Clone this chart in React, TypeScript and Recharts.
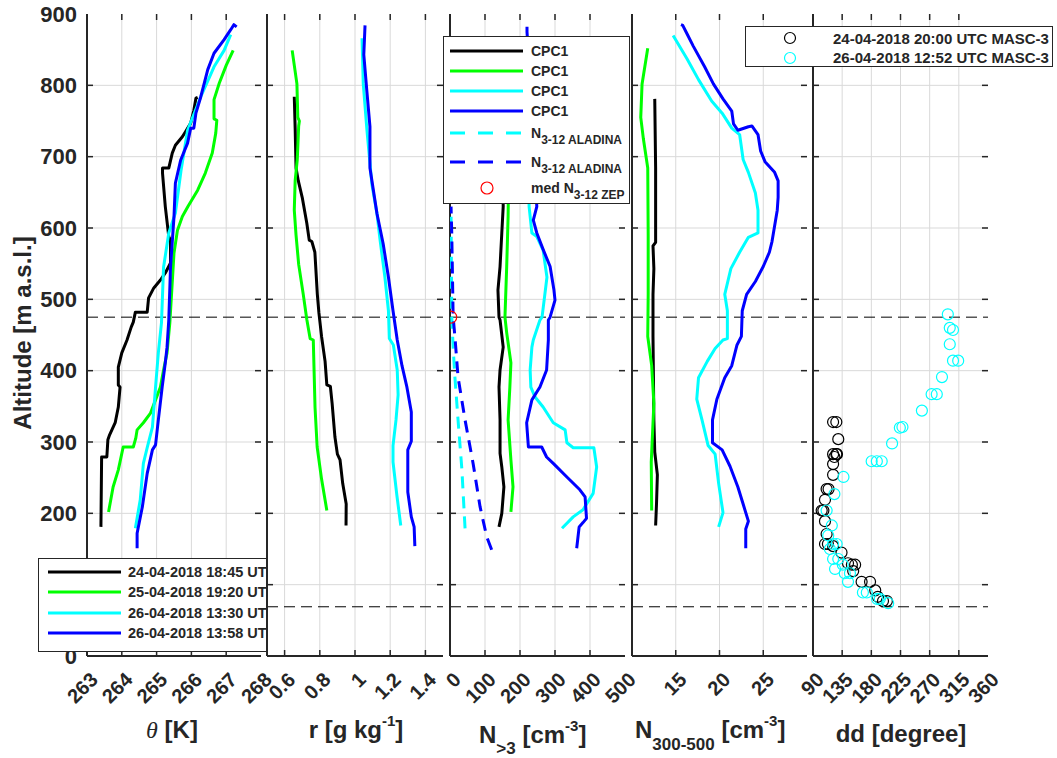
import React from 'react';
import { ScatterChart, Scatter, XAxis, YAxis, ReferenceLine } from 'recharts';

const FONT = '"Liberation Sans", Arial, Helvetica, sans-serif';
const INK = '#262626';
const W = 1057;
const H = 758;
const PLOT_TOP = 14;
const PLOT_BOTTOM = 656;
const TICK_PX = 6;

// ticks
const altTicks = [0, 100, 200, 300, 400, 500, 600, 700, 800, 900];
const thetaTicks = [263, 264, 265, 266, 267, 268];
const rTicks = [0.6, 0.8, 1, 1.2, 1.4];
const n3Ticks = [0, 100, 200, 300, 400, 500];
const n300Ticks = [15, 20, 25];
const ddTicks = [90, 135, 180, 225, 270, 315, 360];
const layerAlts = [475, 69];

// legend labels
const profileLabels = ['24-04-2018 18:45 UTC', '25-04-2018 19:20 UTC', '26-04-2018 13:30 UTC', '26-04-2018 13:58 UTC'];
const profileColors = ['#000000', '#00ff00', '#00ffff', '#0000ff'];
const masc3Labels = ['24-04-2018 20:00 UTC MASC-3', '26-04-2018 12:52 UTC MASC-3'];

// potential temperature [K] vs altitude
const theta1 = [[263.40,181],[263.42,279],[263.57,279],[263.60,303],[263.65,310],[263.81,327],[263.90,349],[263.95,377],[263.90,380],[263.90,405],[264.00,425],[264.15,443],[264.27,461],[264.33,468],[264.39,482],[264.73,482],[264.77,502],[264.92,516],[265.11,527],[265.25,537],[265.40,551],[265.40,583],[265.35,588],[265.25,630],[265.17,677],[265.17,684],[265.35,684],[265.45,705],[265.54,716],[265.74,728],[265.83,735],[265.98,747],[266.07,765],[266.13,782],[266.18,783]];
const theta2 = [[263.62,202],[263.75,237],[263.90,261],[264.04,293],[264.33,293],[264.40,305],[264.44,317],[264.62,327],[264.82,340],[264.97,359],[265.11,377],[265.20,401],[265.30,425],[265.38,467],[265.50,565],[265.60,597],[265.74,616],[265.90,630],[266.18,653],[266.40,677],[266.60,705],[266.70,733],[266.73,751],[266.65,753],[266.65,780],[266.80,803],[267.00,828],[267.20,849]];
const theta3 = [[264.39,179],[264.53,219],[264.62,270],[264.73,292],[264.88,321],[264.97,377],[265.05,425],[265.14,467],[265.20,545],[265.35,593],[265.54,621],[265.70,680],[265.89,737],[266.27,784],[266.65,826],[266.94,849],[267.13,871]];
const theta4 = [[264.44,151],[264.44,172],[264.59,209],[264.73,256],[264.88,289],[264.97,296],[265.05,331],[265.16,377],[265.25,411],[265.30,433],[265.35,471],[265.40,545],[265.50,616],[265.54,663],[265.69,695],[265.89,719],[265.98,740],[266.07,740],[266.13,761],[266.27,784],[266.47,822],[266.65,845],[266.94,864],[267.13,878],[267.22,885],[267.30,882]];

// mixing ratio [g/kg]
const r1 = [[0.949,183],[0.95,213],[0.93,242],[0.915,275],[0.90,283],[0.886,307],[0.87,354],[0.86,378],[0.84,380],[0.83,413],[0.81,448],[0.795,481],[0.786,507],[0.772,566],[0.755,581],[0.74,583],[0.726,607],[0.70,643],[0.678,666],[0.665,684],[0.66,740],[0.655,784]];
const r2 = [[0.84,204],[0.81,248],[0.785,293],[0.773,348],[0.763,443],[0.745,445],[0.726,472],[0.706,507],[0.68,549],[0.665,590],[0.655,625],[0.66,666],[0.672,696],[0.68,743],[0.684,750],[0.675,755],[0.67,802],[0.643,849]];
const r3 = [[1.26,183],[1.238,225],[1.216,272],[1.216,295],[1.233,331],[1.245,366],[1.24,401],[1.218,436],[1.195,445],[1.19,484],[1.17,531],[1.142,584],[1.125,620],[1.096,661],[1.068,737],[1.047,802],[1.04,866]];
const r4 = [[1.34,154],[1.336,181],[1.32,195],[1.30,230],[1.30,289],[1.32,301],[1.32,342],[1.294,378],[1.267,407],[1.24,443],[1.216,484],[1.19,531],[1.16,578],[1.125,620],[1.085,684],[1.085,742],[1.068,790],[1.05,843],[1.057,884]];

// N>3 [cm-3], CPC1 and ALADINA
const n3cpc1 = [[140,181],[148,200],[154,237],[148,265],[143,284],[143,331],[140,377],[143,401],[152,433],[143,471],[140,475],[137,513],[143,546],[148,593],[152,630],[150,700],[148,780]];
const n3cpc2 = [[174,202],[180,237],[174,275],[166,331],[171,377],[174,411],[162,453],[157,475],[162,546],[166,616],[168,700],[165,780],[160,849]];
const n3cpc3 = [[320,179],[352,195],[380,205],[409,228],[419,265],[411,292],[352,292],[334,299],[329,317],[295,327],[266,349],[243,363],[231,377],[229,401],[234,433],[238,443],[257,471],[263,475],[277,531],[266,569],[248,588],[234,593],[226,630],[225,750],[220,866]];
const n3cpc4 = [[362,151],[369,181],[380,187],[390,193],[386,223],[371,233],[334,251],[295,270],[276,279],[262,293],[224,293],[221,313],[219,327],[234,359],[257,377],[276,401],[281,443],[281,471],[286,475],[300,499],[297,513],[286,546],[266,570],[248,593],[238,611],[248,630],[235,750],[222,860],[220,875],[220,882]];
const n312ala3 = [[43,179],[34,261],[23,331],[14,391],[9,433],[5,475],[3,625]];
const n312ala4 = [[119,149],[105,167],[86,209],[66,270],[43,331],[23,391],[14,448],[9,475],[5,593],[3,630]];
const n312zep = [[2,475]];

// N300-500 [cm-3]
const n300a = [[12.7,183],[12.8,213],[12.9,254],[12.6,286],[12.5,331],[12.4,448],[12.4,507],[12.5,543],[12.4,575],[12.7,580],[12.7,684],[12.6,781]];
const n300b = [[12.25,204],[12.2,272],[12.5,354],[12.25,407],[11.8,448],[11.85,507],[11.85,590],[11.8,684],[11.3,725],[11.0,755],[11.15,802],[11.8,852]];
const n300c = [[19.9,181],[20.4,201],[19.9,242],[19.5,283],[18.7,295],[18.0,331],[17.4,360],[17.6,390],[18.6,413],[19.5,431],[20.4,443],[20.9,445],[20.9,484],[20.6,507],[21.3,543],[22.3,566],[23.3,587],[24.4,593],[24.4,625],[24.1,649],[23.3,678],[22.7,696],[22.3,731],[21.4,740],[20.3,761],[19.1,778],[17.6,808],[16.3,837],[14.7,870]];
const n300d = [[23.0,151],[23.0,178],[23.3,189],[22.7,213],[22.1,237],[21.2,266],[20.3,289],[19.2,299],[19.2,331],[19.7,360],[20.6,390],[21.4,407],[22.0,436],[22.5,448],[22.6,484],[23.1,507],[24.1,525],[25.0,546],[25.7,566],[26.0,581],[26.6,625],[26.7,643],[26.7,666],[26.3,678],[25.2,693],[24.7,708],[24.4,731],[23.7,743],[23.3,742],[22.1,737],[21.6,746],[21.4,764],[20.4,781],[19.3,802],[18.3,826],[17.0,855],[16.3,872],[15.8,884],[15.6,885]];

// wind direction [degree], MASC-3
const dd2404 = [[121,328],[126,328],[129,304],[121,283],[126,283],[127,283],[123,279],[121,269],[121,254],[111,234],[114,234],[108.5,219],[103.4,204],[106,204],[108.5,189],[111,171],[108.5,157],[113,157],[121,154],[134,145],[144,130],[150,128],[155,128],[152,119],[165,104],[178,104],[186,92],[190,83],[198,77],[204,77]];
const dd2604 = [[298,479],[301,460],[306,457],[301,437],[306,414],[314,414],[289,391],[273,367],[281,367],[258,344],[224,320],[228,321],[212,298],[180.5,273],[188.5,273],[196,273],[137,251],[123,227],[111,204],[119,183],[113.5,169],[121,157],[126.5,157],[116,150],[121,136],[129,136],[136,128],[124,122],[139,116],[147,116],[144,104],[167,89],[173,89],[189,80],[193,80],[206,74]];

const xy = (rows: number[][]) => rows.map(([x, y]) => ({ x, y }));

type Series = { rows: number[][]; color: string; kind: 'line' | 'dash' | 'circle'; r?: number };

const PANELS: { left: number; right: number; domain: number[]; ticks: number[]; showY?: boolean; series: Series[] }[] = [
  {
    left: 87, right: 261, domain: [263, 268], ticks: thetaTicks, showY: true,
    series: [theta1, theta2, theta3, theta4].map((rows, i) => ({ rows, color: profileColors[i], kind: 'line' as const })),
  },
  {
    left: 267, right: 443, domain: [0.5, 1.5], ticks: rTicks,
    series: [r1, r2, r3, r4].map((rows, i) => ({ rows, color: profileColors[i], kind: 'line' as const })),
  },
  {
    left: 450, right: 625, domain: [0, 500], ticks: n3Ticks,
    series: [
      ...[n3cpc1, n3cpc2, n3cpc3, n3cpc4].map((rows, i) => ({ rows, color: profileColors[i], kind: 'line' as const })),
      { rows: n312ala3, color: '#00ffff', kind: 'dash' },
      { rows: n312ala4, color: '#0000ff', kind: 'dash' },
      { rows: n312zep, color: '#ff0000', kind: 'circle', r: 6 },
    ],
  },
  {
    left: 632, right: 807, domain: [10, 30], ticks: n300Ticks,
    series: [n300a, n300b, n300c, n300d].map((rows, i) => ({ rows, color: profileColors[i], kind: 'line' as const })),
  },
  {
    left: 813, right: 988, domain: [90, 360], ticks: ddTicks,
    series: [
      { rows: dd2404, color: '#000000', kind: 'circle', r: 5.5 },
      { rows: dd2604, color: '#00ffff', kind: 'circle', r: 5.5 },
    ],
  },
];

const RotTick = (props: any) => {
  const { x, y, payload } = props;
  const ax = x + 12;
  return (
    <text x={ax} y={y} transform={`rotate(-45, ${ax}, ${y})`} textAnchor="end"
      fontSize={20} fontWeight="bold" fontFamily={FONT} fill={INK}>
      {String(payload.value)}
    </text>
  );
};

const noShape = () => <g />;

function Panel({ left, right, domain, ticks, showY, series }: typeof PANELS[number]) {
  const padL = showY ? left : 30;
  const padR = 30;
  const plotW = right - left;
  const width = padL + plotW + padR;
  const axisLine = { stroke: INK, strokeWidth: 2 };
  const [x0, x1] = domain;
  // inward tick length, converted to data units of each axis
  const dAlt = (TICK_PX * 900) / (PLOT_BOTTOM - PLOT_TOP);
  const dX = (TICK_PX * (x1 - x0)) / plotW;
  const innerX = ticks.filter((t) => t > x0 && t < x1);
  const innerAlt = altTicks.filter((a) => a > 0 && a < 900);
  const tickStyle = { stroke: INK, strokeWidth: 1.5 };
  return (
    <div style={{ position: 'absolute', left: left - padL, top: 0 }}>
      <ScatterChart width={width} height={H} margin={{ top: PLOT_TOP, right: padR, bottom: 0, left: 0 }}>
        {/* grid */}
        {innerX.map((t) => (
          <ReferenceLine key={`gx${t}`} xAxisId="b" yAxisId="l" x={t} stroke="#d9d9d9" strokeWidth={1} />
        ))}
        {innerAlt.map((a) => (
          <ReferenceLine key={`gy${a}`} xAxisId="b" yAxisId="l" y={a} stroke="#d9d9d9" strokeWidth={1} />
        ))}
        <XAxis xAxisId="b" type="number" dataKey="x" domain={domain} ticks={ticks} allowDataOverflow
          orientation="bottom" height={H - PLOT_BOTTOM} interval={0} axisLine={axisLine} tickLine={false}
          tickSize={-6} tickMargin={31} tick={(p: any) => <RotTick {...p} />} />
        <XAxis xAxisId="t" type="number" dataKey="x" domain={domain} ticks={ticks} allowDataOverflow
          orientation="top" height={0} axisLine={axisLine} tickLine={false} tick={false} />
        <YAxis yAxisId="l" type="number" dataKey="y" domain={[0, 900]} ticks={altTicks} allowDataOverflow
          width={padL} interval={0} axisLine={axisLine} tickLine={false} tickSize={-6} tickMargin={16}
          tick={showY ? { fill: INK, fontSize: 22, fontWeight: 'bold', fontFamily: FONT } : false} />
        <YAxis yAxisId="r" orientation="right" type="number" dataKey="y" domain={[0, 900]} ticks={altTicks} allowDataOverflow
          width={0} axisLine={axisLine} tickLine={false} tick={false} />
        {layerAlts.map((a) => (
          <ReferenceLine key={`l${a}`} xAxisId="b" yAxisId="l" y={a} stroke="#000" strokeWidth={1} strokeDasharray="11 6" />
        ))}
        {series.map((s, i) =>
          s.kind === 'circle' ? (
            <Scatter key={i} xAxisId="b" yAxisId="l" data={xy(s.rows)} isAnimationActive={false}
              shape={(p: any) => <circle cx={p.cx} cy={p.cy} r={s.r} fill="none" stroke={s.color} strokeWidth={1.2} />} />
          ) : (
            <Scatter key={i} xAxisId="b" yAxisId="l" data={xy(s.rows)} isAnimationActive={false} fill={s.color}
              line={{ stroke: s.color, strokeWidth: 3, strokeLinejoin: 'round', strokeDasharray: s.kind === 'dash' ? '12 8' : undefined }}
              shape={noShape} />
          )
        )}
        {/* inward tick marks on all four sides */}
        {innerX.map((t) => (
          <ReferenceLine key={`tb${t}`} xAxisId="b" yAxisId="l" segment={[{ x: t, y: 0 }, { x: t, y: dAlt }]} {...tickStyle} />
        ))}
        {innerX.map((t) => (
          <ReferenceLine key={`tt${t}`} xAxisId="b" yAxisId="l" segment={[{ x: t, y: 900 - dAlt }, { x: t, y: 900 }]} {...tickStyle} />
        ))}
        {innerAlt.map((a) => (
          <ReferenceLine key={`tl${a}`} xAxisId="b" yAxisId="l" segment={[{ x: x0, y: a }, { x: x0 + dX, y: a }]} {...tickStyle} />
        ))}
        {innerAlt.map((a) => (
          <ReferenceLine key={`tr${a}`} xAxisId="b" yAxisId="l" segment={[{ x: x1 - dX, y: a }, { x: x1, y: a }]} {...tickStyle} />
        ))}
      </ScatterChart>
    </div>
  );
}

const legendText: React.CSSProperties = { fontFamily: FONT, fontWeight: 'bold', fontSize: 14, color: INK, whiteSpace: 'nowrap' };
const box: React.CSSProperties = { position: 'absolute', background: '#fff', border: `1.5px solid ${INK}`, boxSizing: 'border-box', overflow: 'hidden' };

const LineSample = ({ color, dash }: { color: string; dash?: boolean }) => (
  <svg width={73} height={8} style={{ display: 'block' }}>
    <line x1={0} y1={4} x2={73} y2={4} stroke={color} strokeWidth={3} strokeDasharray={dash ? '15 13' : undefined} />
  </svg>
);

const Sub = ({ children }: { children: React.ReactNode }) => (
  <span style={{ fontSize: 12, position: 'relative', top: 6 }}>{children}</span>
);

export default function App() {
  const cpcRows = [14, 34, 54, 74];
  return (
    <div style={{ position: 'absolute', left: 0, top: 0, width: W, height: H, background: '#fff', overflow: 'hidden' }}>
      {PANELS.map((p, i) => <Panel key={i} {...p} />)}

      <svg width={W} height={H} style={{ position: 'absolute', left: 0, top: 0, pointerEvents: 'none' }}>
        <g fontFamily={FONT} fontWeight="bold" fill={INK} fontSize={24}>
          <text x={172} y={738} textAnchor="middle">
            <tspan fontFamily='"Liberation Serif", serif' fontStyle="italic" fontWeight="normal">θ</tspan> [K]
          </text>
          <text x={356} y={738} textAnchor="middle">
            r [g kg<tspan fontSize={15} dy={-12}>-1</tspan><tspan dy={12}>]</tspan>
          </text>
          <text x={479} y={743}>
            N<tspan fontSize={17} dy={11}>&gt;3</tspan><tspan dy={-11}> [cm</tspan><tspan fontSize={15} dy={-12}>-3</tspan><tspan dy={12}>]</tspan>
          </text>
          <text x={635} y={738}>
            N<tspan fontSize={17} dy={12}>300-500</tspan><tspan dy={-12}> [cm</tspan><tspan fontSize={15} dy={-12}>-3</tspan><tspan dy={12}>]</tspan>
          </text>
          <text x={901} y={742} textAnchor="middle">dd [degree]</text>
        </g>
      </svg>
      <div style={{ position: 'absolute', left: 23, top: 333, transform: 'translate(-50%, -50%) rotate(-90deg)', fontFamily: FONT, fontWeight: 'bold', fontSize: 24, color: INK, whiteSpace: 'nowrap', lineHeight: 1 }}>
        Altitude [m a.s.l.]
      </div>

      {/* legend theta panel (clipped by the r panel) */}
      <div style={{ ...box, left: 38, top: 558, width: 228, height: 94, borderRight: 'none' }}>
        {profileLabels.map((lab, i) => (
          <div key={lab} style={{ position: 'absolute', left: 9, top: 3 + i * 20.3, height: 20, display: 'flex', alignItems: 'center' }}>
            <LineSample color={profileColors[i]} />
            <span style={{ ...legendText, marginLeft: 7, fontSize: 14.5 }}>{lab}</span>
          </div>
        ))}
      </div>

      {/* legend N>3 panel */}
      <div style={{ ...box, left: 443, top: 36, width: 187, height: 168 }}>
        {profileColors.map((c, i) => (
          <div key={c} style={{ position: 'absolute', left: 6, top: cpcRows[i] - 10, height: 20, display: 'flex', alignItems: 'center' }}>
            <LineSample color={c} />
            <span style={{ ...legendText, marginLeft: 8 }}>CPC1</span>
          </div>
        ))}
        {['#00ffff', '#0000ff'].map((c, i) => (
          <div key={c} style={{ position: 'absolute', left: 6, top: [96, 125][i] - 10, height: 20, display: 'flex', alignItems: 'center' }}>
            <LineSample color={c} dash />
            <span style={{ ...legendText, marginLeft: 8 }}>N<Sub>3-12 ALADINA</Sub></span>
          </div>
        ))}
        <div style={{ position: 'absolute', left: 6, top: 141, height: 20, display: 'flex', alignItems: 'center' }}>
          <svg width={73} height={16} style={{ display: 'block' }}>
            <circle cx={37} cy={8} r={6} fill="none" stroke="#ff0000" strokeWidth={1.2} />
          </svg>
          <span style={{ ...legendText, marginLeft: 8 }}>med N<Sub>3-12 ZEP</Sub></span>
        </div>
      </div>

      {/* legend dd panel */}
      <div style={{ ...box, left: 745, top: 26, width: 308, height: 41 }}>
        {masc3Labels.map((lab, i) => (
          <div key={lab} style={{ position: 'absolute', left: 30, top: 2 + i * 19.5, height: 18, display: 'flex', alignItems: 'center' }}>
            <svg width={28} height={14} style={{ display: 'block' }}>
              <circle cx={14} cy={7} r={5.5} fill="none" stroke={i === 0 ? '#000000' : '#00ffff'} strokeWidth={1.2} />
            </svg>
            <span style={{ ...legendText, fontSize: 15, marginLeft: 29 }}>{lab}</span>
          </div>
        ))}
      </div>
    </div>
  );
}
